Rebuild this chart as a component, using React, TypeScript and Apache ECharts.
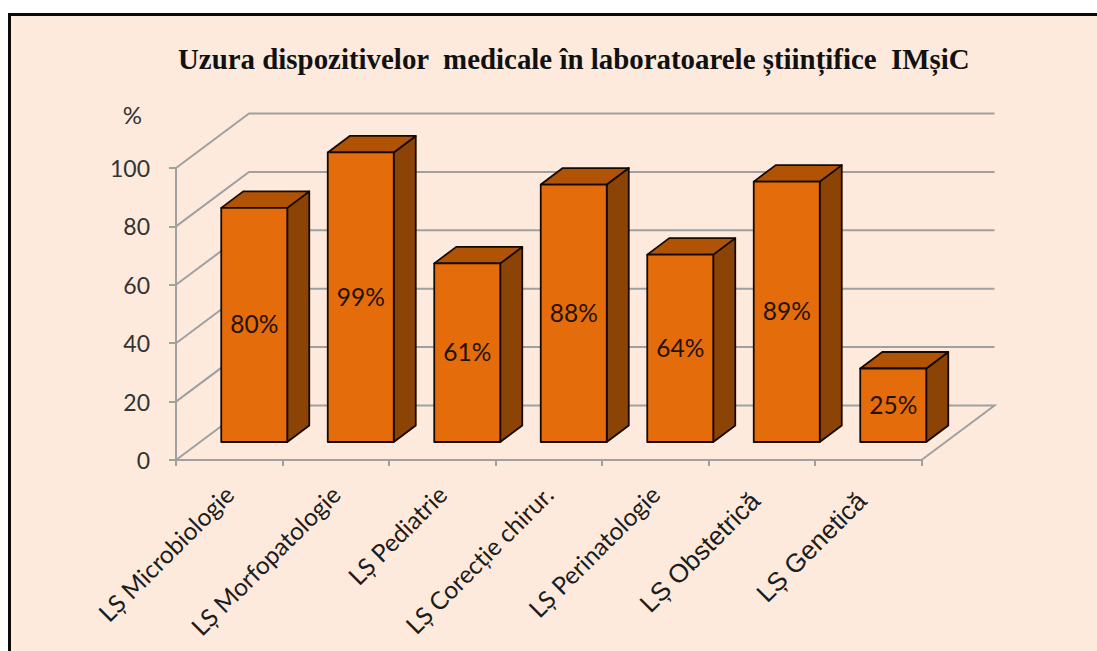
import React, { useEffect, useRef } from "react";
import * as echarts from "echarts";

const titleText = "Uzura dispozitivelor  medicale în laboratoarele științifice  IMșiC";
const categories = ["LȘ Microbiologie", "LȘ Morfopatologie", "LȘ Pediatrie", "LȘ Corecție chirur.", "LȘ Perinatologie", "LȘ Obstetrică", "LȘ Genetică"];
const categoryFonts = ["c", "c", "c", "c", "c", "a", "a"];
const values = [80, 99, 61, 88, 64, 89, 25];
const wallTicks = [0, 20, 40, 60, 80, 100];

const AXIS = "#a0a0a0";
const INK = "#1c1c1c";
const WALL_DX = 73;
const WALL_DY = -54.5;
const BAR_OFF_X = 25;
const BAR_OFF_Y = -18.5;
const BAR_DX = 22;
const BAR_DY = -16.5;
const BAR_W = 66;

export default function App() {
  const ref = useRef<HTMLDivElement>(null);
  useEffect(() => {
    const chart = echarts.init(ref.current!, null, { renderer: "svg" });
    chart.setOption({
      animation: false,
      backgroundColor: "#ffffff",
      graphic: [
        {
          type: "rect",
          z: -10,
          silent: true,
          shape: { x: 9.5, y: 14.5, width: 1300, height: 900 },
          style: { fill: "#fdeadc", stroke: "#0a0a0a", lineWidth: 3 },
        },
      ],
      title: {
        text: titleText,
        left: 178,
        top: 44,
        padding: 0,
        textStyle: { fontFamily: "Liberation Serif", fontWeight: "bold", fontSize: 28.9, color: "#111111" },
      },
      grid: { left: 176, width: 745.5, top: 168, height: 292 },
      xAxis: {
        type: "category",
        data: categories,
        axisLine: { lineStyle: { color: AXIS, width: 2 } },
        axisTick: { show: true, length: 6, alignWithLabel: false, lineStyle: { color: AXIS, width: 2 } },
        axisLabel: {
          interval: 0,
          rotate: 45,
          margin: 30,
          color: INK,
          formatter: (v: string, i: number) => `{${categoryFonts[i]}|${v}}`,
          rich: {
            c: { fontFamily: "Lato", fontSize: 24.5, color: INK },
            a: { fontFamily: "Liberation Sans", fontSize: 26, color: INK, padding: [0, 9, 0, 0] },
          },
        },
      },
      yAxis: {
        type: "value",
        min: 0,
        max: 100,
        interval: 20,
        name: "%",
        nameLocation: "end",
        nameGap: 42,
        nameTextStyle: { fontFamily: "Lato", fontSize: 24, color: "#333333", align: "right", padding: [0, 34, 0, 0] },
        axisLine: { show: true, lineStyle: { color: AXIS, width: 2 } },
        axisTick: { show: true, length: 7, lineStyle: { color: AXIS, width: 2 } },
        axisLabel: { fontFamily: "Lato", fontSize: 23, color: "#333333", margin: 26 },
        splitLine: { show: false },
      },
      series: [
        {
          type: "custom",
          z: 1,
          silent: true,
          clip: false,
          data: wallTicks.map((v) => [0, v]),
          encode: { x: 0, y: 1 },
          renderItem: (_p: any, api: any) => {
            const v = api.value(1);
            const [cx, y] = api.coord([0, v]);
            const band = api.size([1, 0])[0];
            const x0 = cx - band / 2;
            const x1 = x0 + band * categories.length;
            const pts: number[][] = [
              [x0, y],
              [x0 + WALL_DX, y + WALL_DY],
              [x1 + WALL_DX, y + WALL_DY],
            ];
            if (v === 0) pts.push([x1, y]);
            return {
              type: "polyline",
              shape: { points: pts },
              style: { stroke: AXIS, lineWidth: 2, fill: "none" },
            };
          },
        },
        {
          type: "custom",
          z: 2,
          silent: true,
          clip: false,
          data: values.map((v, i) => [i, v]),
          encode: { x: 0, y: 1 },
          renderItem: (_p: any, api: any) => {
            const idx = api.value(0);
            const v = api.value(1);
            const [cx, yTop0] = api.coord([idx, v]);
            const [, yBase0] = api.coord([idx, 0]);
            const l = cx - BAR_W / 2 + BAR_OFF_X;
            const r = l + BAR_W;
            const t = yTop0 + BAR_OFF_Y;
            const b = yBase0 + BAR_OFF_Y + 0.5;
            const stroke = { stroke: "#140a02", lineWidth: 1.8, lineJoin: "round" };
            return {
              type: "group",
              children: [
                {
                  type: "polygon",
                  shape: { points: [[r, t], [r + BAR_DX, t + BAR_DY], [r + BAR_DX, b + BAR_DY], [r, b]] },
                  style: { fill: "#8c4306", ...stroke },
                },
                {
                  type: "polygon",
                  shape: { points: [[l, t], [l + BAR_DX, t + BAR_DY], [r + BAR_DX, t + BAR_DY], [r, t]] },
                  style: { fill: "#b05305", ...stroke },
                },
                {
                  type: "rect",
                  shape: { x: l, y: t, width: BAR_W, height: b - t },
                  style: { fill: "#e56c0a", ...stroke },
                },
                {
                  type: "text",
                  x: (l + r) / 2,
                  y: (t + b) / 2 - 1,
                  style: {
                    text: `${v}%`,
                    fill: "#241204",
                    font: "24.5px Lato",
                    textAlign: "center",
                    textVerticalAlign: "middle",
                  },
                },
              ],
            };
          },
        },
      ],
    });
    return () => chart.dispose();
  }, []);
  return <div ref={ref} style={{ position: "fixed", left: 0, top: 0, width: 1097, height: 651, overflow: "hidden" }} />;
}
